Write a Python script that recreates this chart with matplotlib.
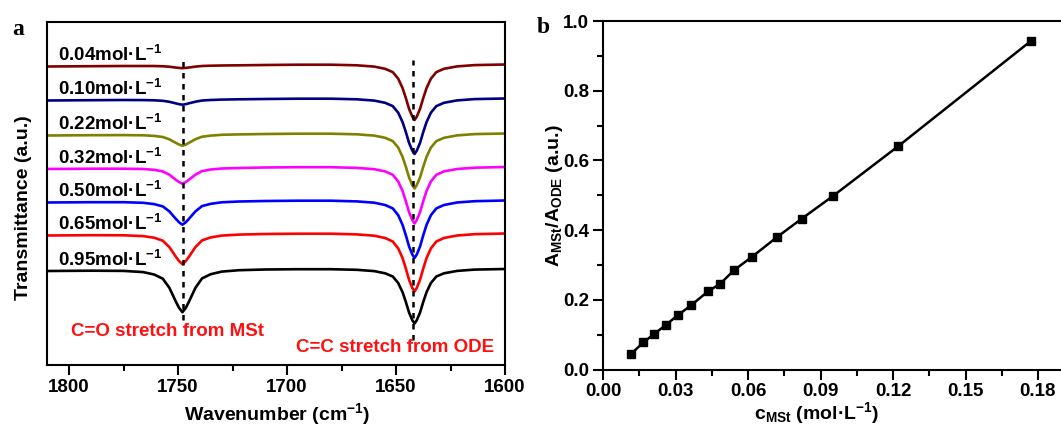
import matplotlib
matplotlib.use("Agg")
import matplotlib.pyplot as plt

plt.rcParams['font.family'] = ['Liberation Sans', 'DejaVu Sans']
plt.rcParams['font.weight'] = 'bold'
plt.rcParams['mathtext.fontset'] = 'custom'
plt.rcParams['mathtext.rm'] = 'Liberation Sans:bold'
plt.rcParams['mathtext.it'] = 'Liberation Sans:bold'
plt.rcParams['mathtext.bf'] = 'Liberation Sans:bold'
plt.rcParams['axes.linewidth'] = 1.5

# ---------------- Panel a data: FTIR spectra (offset, arbitrary units) ----------------
wavenumber = [1810, 1790, 1775, 1766, 1761, 1757, 1754, 1751, 1749.5, 1748, 1746.5, 1745,
              1742, 1739, 1735, 1730, 1722, 1710, 1695, 1680, 1668, 1660, 1655, 1651.5,
              1649, 1647, 1645.5, 1644, 1642.5, 1641.5, 1640.5, 1639, 1637.5, 1636, 1634,
              1631.5, 1628, 1622, 1614, 1600]

t_004 = [298.5, 298.8, 299.0, 299.0, 299.0, 298.7, 298.3, 297.4, 297.1, 296.8, 297.1, 297.5,
         298.4, 299.0, 299.3, 299.5, 299.7, 300.0, 300.3, 300.3, 299.7, 298.4, 296.2, 292.9,
         286.3, 276.9, 267.0, 256.0, 248.3, 245.0, 248.3, 256.0, 267.0, 276.9, 286.3,
         292.9, 296.2, 298.6, 299.9, 300.5]
t_010 = [264.5, 264.8, 265.0, 264.9, 264.7, 264.2, 263.2, 261.6, 260.8, 260.3, 260.8, 261.7,
         263.3, 264.5, 265.0, 265.4, 265.7, 266.0, 266.3, 266.3, 265.7, 264.4, 262.2, 258.9,
         252.3, 242.9, 233.0, 222.0, 214.3, 211.0, 214.3, 222.0, 233.0, 242.9, 252.3,
         258.9, 262.2, 264.6, 265.9, 266.5]
t_022 = [229.5, 229.8, 229.9, 229.7, 229.1, 228.0, 225.7, 222.1, 220.4, 219.3, 220.4, 222.2,
         225.8, 228.3, 229.4, 230.2, 230.6, 231.0, 231.3, 231.3, 230.7, 229.4, 227.2, 223.9,
         217.4, 208.1, 198.3, 187.4, 179.8, 176.5, 179.8, 187.4, 198.3, 208.1, 217.4,
         223.9, 227.2, 229.6, 230.9, 231.5]
t_032 = [196.0, 196.3, 196.3, 196.0, 195.2, 193.6, 190.3, 185.2, 182.9, 181.3, 182.9, 185.3,
         190.4, 193.9, 195.5, 196.5, 197.0, 197.5, 197.8, 197.8, 197.1, 195.8, 193.6, 190.2,
         183.5, 174.0, 163.9, 152.7, 144.9, 141.5, 144.9, 152.7, 163.9, 174.0, 183.5,
         190.2, 193.6, 196.0, 197.3, 198.0]
t_050 = [162.5, 162.8, 162.8, 162.2, 160.9, 158.6, 153.6, 146.1, 142.6, 140.3, 142.6, 146.2,
         153.7, 158.9, 161.2, 162.7, 163.5, 164.0, 164.3, 164.3, 163.6, 162.3, 160.0, 156.6,
         149.8, 140.1, 129.8, 118.4, 110.4, 107.0, 110.4, 118.4, 129.8, 140.1, 149.8,
         156.6, 160.0, 162.5, 163.8, 164.5]
t_065 = [129.5, 129.8, 129.7, 128.9, 127.3, 124.3, 117.9, 108.2, 103.8, 100.8, 103.8, 108.3,
         118.0, 124.6, 127.6, 129.4, 130.4, 131.0, 131.3, 131.3, 130.6, 129.3, 127.0, 123.5,
         116.6, 106.9, 96.5, 85.0, 77.0, 73.5, 77.0, 85.0, 96.5, 106.9, 116.6,
         123.5, 127.0, 129.5, 130.8, 131.5]
t_095 = [94.0, 94.3, 94.1, 92.9, 90.5, 86.3, 77.2, 63.3, 57.0, 52.8, 57.0, 63.4,
         77.3, 86.6, 90.8, 93.4, 94.8, 95.5, 95.8, 95.8, 95.2, 93.9, 91.7, 88.5,
         82.0, 72.8, 63.1, 52.3, 44.7, 41.5, 44.7, 52.3, 63.1, 72.8, 82.0,
         88.5, 91.7, 94.1, 95.4, 96.0]

spectra = [t_004, t_010, t_022, t_032, t_050, t_065, t_095]
conc_labels = ['0.04', '0.10', '0.22', '0.32', '0.50', '0.65', '0.95']
label_y = [304, 270, 235, 201.5, 168, 135, 99.5]
colors = ['#800000', '#000080', '#808000', '#FF00FF', '#0000FF', '#FF0000', '#000000']
peak_positions = [1747.6, 1642.1]
peak_line_y = [(45, 305), (25, 305)]

# ---------------- Panel b data ----------------
c_mst = [0.0115, 0.0166, 0.0212, 0.0262, 0.0310, 0.0366, 0.0434, 0.0485, 0.0544, 0.0616,
         0.0722, 0.0823, 0.0952, 0.1222, 0.1773]
a_ratio = [0.0436, 0.0775, 0.1019, 0.129, 0.156, 0.185, 0.224, 0.246, 0.286, 0.323,
           0.381, 0.433, 0.498, 0.641, 0.944]

W, H = 1061, 426
fig = plt.figure(figsize=(W / 100, H / 100), dpi=100)

# ---------------- Panel a ----------------
axa = fig.add_axes([47.3 / W, 1 - 365 / H, (505 - 47.3) / W, (365 - 22) / H])
for y, col in zip(spectra, colors):
    axa.plot(wavenumber, y, color=col, lw=1.9, solid_joinstyle='round')
for x, (y0, y1) in zip(peak_positions, peak_line_y):
    axa.plot([x, x], [y0, y1], color='black', lw=1.8, ls=(0, (2.2, 2.2)))
for lab, ly in zip(conc_labels, label_y):
    axa.text(1805, ly, lab + r'mol·L$^{-1}$', fontsize=13.5, fontweight='bold',
             ha='left', va='baseline')
axa.text(1799, 29, 'C=O stretch from MSt', color='#FF1010', fontsize=13.5,
         fontweight='bold', ha='left', va='baseline')
axa.text(1696, 13.4, 'C=C stretch from ODE', color='#FF1010', fontsize=13.5,
         fontweight='bold', ha='left', va='baseline')
axa.set_xlim(1810, 1600)
axa.set_ylim(0, 343)
axa.set_xticks([1800, 1750, 1700, 1650, 1600])
axa.set_xticks([1775, 1725, 1675, 1625], minor=True)
axa.set_yticks([])
axa.tick_params(axis='x', which='major', direction='out', length=7, width=1.5,
                labelsize=13.5, pad=3)
axa.tick_params(axis='x', which='minor', direction='out', length=4, width=1.5)
for t in axa.get_xticklabels():
    t.set_fontweight('bold')
axa.set_xlabel(r'Wavenumber (cm$^{-1}$)', fontsize=14, fontweight='bold')
axa.xaxis.set_label_coords(0.502, -0.105)
axa.set_ylabel('Transmittance (a.u.)', fontsize=14, fontweight='bold')
axa.yaxis.set_label_coords(-0.033, 0.458)
fig.text(12 / W, 1 - 35 / H, 'a', fontsize=17, fontweight='bold',
         family='Liberation Serif', ha='left', va='baseline')

# ---------------- Panel b ----------------
right_px = 603 + 0.195 / 0.03 * 72.5
axb = fig.add_axes([603 / W, 1 - 369.5 / H, (right_px - 603) / W, (369.5 - 21) / H])
axb.plot(c_mst, a_ratio, color='black', lw=1.8, marker='s', markersize=5.5)
axb.set_xlim(0, 0.195)
axb.set_ylim(0, 1.0)
axb.set_xticks([0.00, 0.03, 0.06, 0.09, 0.12, 0.15, 0.18])
axb.set_xticklabels(['0.00', '0.03', '0.06', '0.09', '0.12', '0.15', '0.18'])
axb.set_xticks([0.015, 0.045, 0.075, 0.105, 0.135, 0.165], minor=True)
axb.set_yticks([0.0, 0.2, 0.4, 0.6, 0.8, 1.0])
axb.set_yticklabels(['0.0', '0.2', '0.4', '0.6', '0.8', '1.0'])
axb.set_yticks([0.1, 0.3, 0.5, 0.7, 0.9], minor=True)
axb.tick_params(which='major', direction='out', length=7, width=1.5, labelsize=13.5, pad=3)
axb.tick_params(which='minor', direction='out', length=4, width=1.5)
for t in axb.get_xticklabels() + axb.get_yticklabels():
    t.set_fontweight('bold')
axb.set_xlabel(r'c$_\mathrm{MSt}$ (mol·L$^{-1}$)', fontsize=14, fontweight='bold')
axb.xaxis.set_label_coords(0.453, -0.088)
axb.set_ylabel(r'A$_\mathrm{MSt}$/A$_\mathrm{ODE}$ (a.u.)', fontsize=14, fontweight='bold')
axb.yaxis.set_label_coords(-0.08, 0.5)
fig.text(537 / W, 1 - 33 / H, 'b', fontsize=17, fontweight='bold',
         family='Liberation Serif', ha='left', va='baseline')

fig.savefig('out.png', dpi=100)
